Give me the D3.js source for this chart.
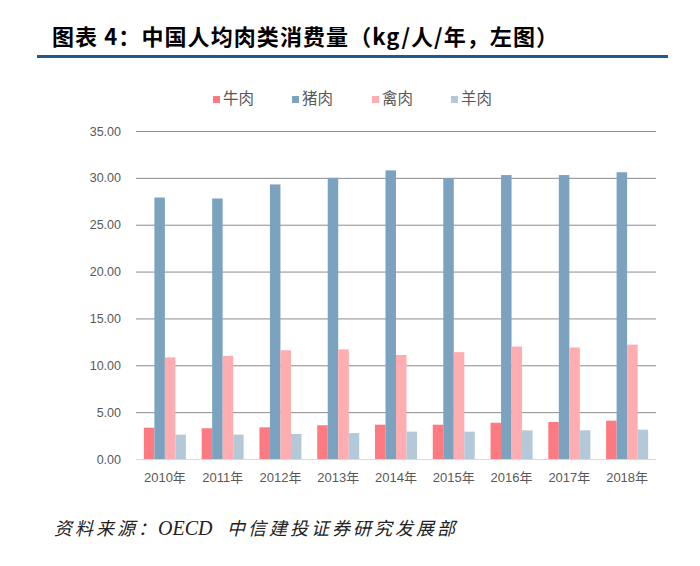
<!DOCTYPE html>
<html lang="zh">
<head>
    <meta charset="UTF-8">
    <script src="https://d3js.org/d3.v7.min.js"></script>
    <title>中国人均肉类消费量</title>
    <style>
        body { margin: 0; background: #fff; }
        svg { display: block; }
    </style>
</head>
<body>
    <script>
        var years = ['2010年', '2011年', '2012年', '2013年', '2014年', '2015年', '2016年', '2017年', '2018年'];
        var seriesNames = ['牛肉', '猪肉', '禽肉', '羊肉'];
        var beef = [3.34, 3.28, 3.38, 3.60, 3.66, 3.66, 3.87, 3.95, 4.09];
        var pork = [27.9, 27.8, 29.3, 30.0, 30.8, 29.95, 30.3, 30.3, 30.6];
        var poultry = [10.85, 11.0, 11.6, 11.7, 11.1, 11.4, 12.0, 11.9, 12.2];
        var mutton = [2.60, 2.60, 2.67, 2.77, 2.92, 2.92, 3.06, 3.06, 3.13];
        var yTicks = [0, 5, 10, 15, 20, 25, 30, 35];
        var colors = ['#fd7b80', '#7ba3c0', '#ffadb0', '#b3c9da'];

        var seriesValues = [beef, pork, poultry, mutton];

        var width = 700, height = 566;
        var plotLeft = 136, plotRight = 656, plotTop = 131, plotBottom = 459;

        var svg = d3.select('body')
            .append('svg')
            .attr('width', width)
            .attr('height', height);

        // title + rule
        svg.append('text')
            .attr('x', 52)
            .attr('y', 45)
            .attr('font-family', '"Noto Sans CJK SC", sans-serif')
            .attr('font-weight', 'bold')
            .attr('font-size', '22px')
            .attr('fill', '#000')
            .attr('textLength', 506)
            .attr('lengthAdjust', 'spacing')
            .text('图表 4：中国人均肉类消费量（kg/人/年，左图）');

        svg.append('rect')
            .attr('x', 37)
            .attr('y', 55)
            .attr('width', 631)
            .attr('height', 3)
            .attr('fill', '#1f5a8f');

        // scales
        var x0 = d3.scaleBand()
            .domain(years)
            .range([plotLeft, plotRight])
            .paddingInner(0.273)
            .paddingOuter(0.1365);

        var x1 = d3.scaleBand()
            .domain(d3.range(seriesNames.length))
            .range([0, x0.bandwidth()]);

        var y = d3.scaleLinear()
            .domain([0, 35])
            .range([plotBottom, plotTop]);

        // gridlines
        var yAxis = d3.axisLeft(y)
            .tickValues(yTicks)
            .tickSize(-(plotRight - plotLeft))
            .tickPadding(15)
            .tickFormat(d3.format('.2f'));

        var gy = svg.append('g')
            .attr('transform', 'translate(' + plotLeft + ',0)')
            .call(yAxis);
        gy.select('.domain').remove();
        gy.selectAll('.tick line')
            .attr('stroke', function(d) { return d === 0 ? '#d9d9d9' : '#8c8c8c'; })
            .attr('stroke-width', 1);
        gy.selectAll('.tick text')
            .attr('font-family', 'Arial, "Liberation Sans", sans-serif')
            .attr('font-size', '12.5px')
            .attr('fill', '#595959');

        // bars
        var groups = svg.selectAll('g.year')
            .data(years)
            .enter()
            .append('g')
            .attr('class', 'year')
            .attr('transform', function(d) { return 'translate(' + x0(d) + ',0)'; });

        groups.selectAll('rect')
            .data(function(d, i) {
                return seriesValues.map(function(vals, s) { return { s: s, value: vals[i] }; });
            })
            .enter()
            .append('rect')
            .attr('x', function(d) { return x1(d.s); })
            .attr('y', function(d) { return y(d.value); })
            .attr('width', x1.bandwidth())
            .attr('height', function(d) { return y(0) - y(d.value); })
            .attr('fill', function(d) { return colors[d.s]; });

        // x axis labels
        var xAxis = d3.axisBottom(x0).tickSize(0).tickPadding(14);
        var gx = svg.append('g')
            .attr('transform', 'translate(0,' + plotBottom + ')')
            .call(xAxis);
        gx.select('.domain').remove();
        gx.selectAll('.tick text')
            .attr('font-family', 'Arial, "Liberation Sans", "Noto Sans CJK SC", sans-serif')
            .attr('font-size', '13px')
            .attr('fill', '#595959');

        // legend
        var legendX = [213, 292, 372, 451];
        var legend = svg.selectAll('g.legend')
            .data(seriesNames)
            .enter()
            .append('g')
            .attr('class', 'legend')
            .attr('transform', function(d, i) { return 'translate(' + legendX[i] + ',98)'; });

        legend.append('rect')
            .attr('x', 0)
            .attr('y', -2)
            .attr('width', 7)
            .attr('height', 7)
            .attr('fill', function(d, i) { return colors[i]; });

        legend.append('text')
            .attr('x', 10)
            .attr('y', 6)
            .attr('font-family', '"Noto Sans CJK SC", sans-serif')
            .attr('font-size', '15.5px')
            .attr('fill', '#595959')
            .text(function(d) { return d; });

        // source note
        var note = svg.append('text')
            .attr('y', 535)
            .attr('font-family', '"Liberation Serif", "Noto Sans CJK SC", serif')
            .attr('font-style', 'italic')
            .attr('font-size', '18px')
            .attr('fill', '#222');
        note.append('tspan')
            .attr('x', 54)
            .attr('textLength', 102)
            .attr('lengthAdjust', 'spacing')
            .text('资料来源：');
        note.append('tspan')
            .attr('x', 158)
            .attr('font-size', '20px')
            .text('OECD');
        note.append('tspan')
            .attr('x', 227)
            .attr('textLength', 228)
            .attr('lengthAdjust', 'spacing')
            .text('中信建投证券研究发展部');
    </script>
</body>
</html>
